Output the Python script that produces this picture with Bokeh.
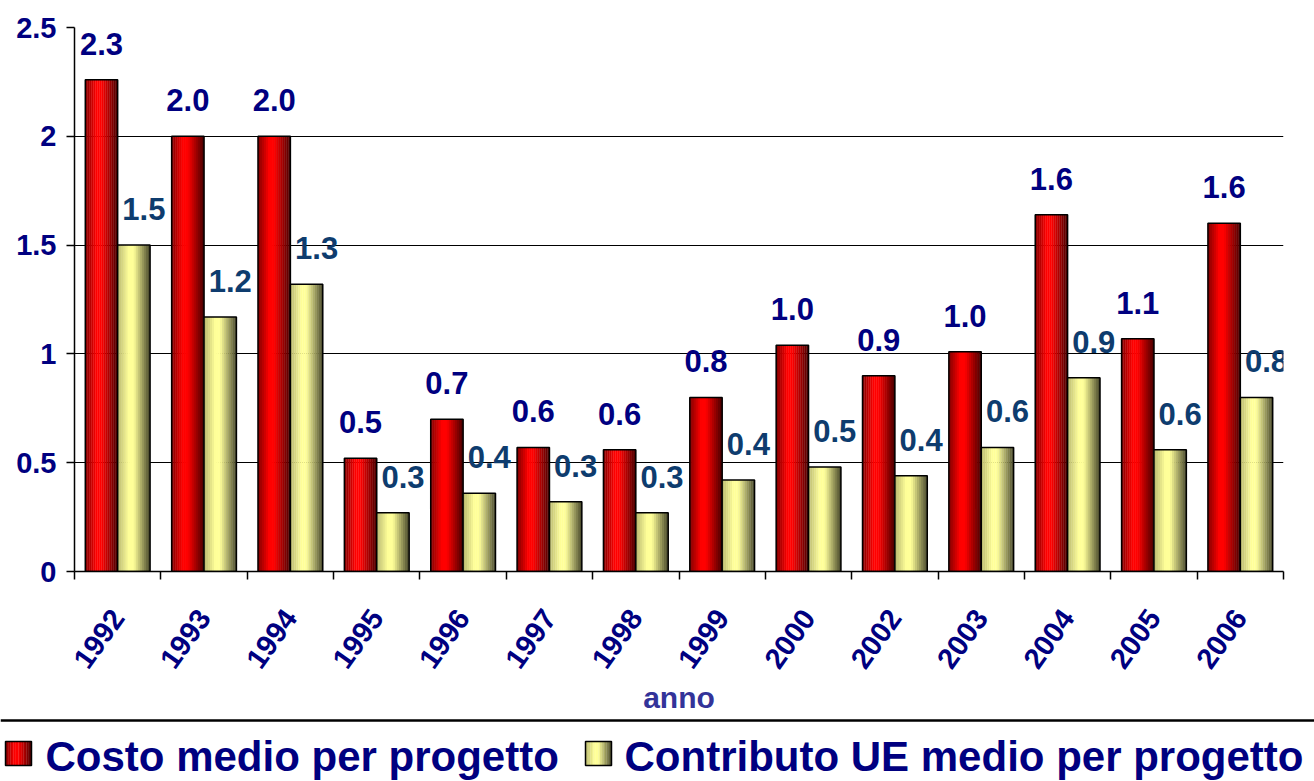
from bokeh.plotting import figure
from bokeh.models import (ColumnDataSource, Range1d, LinearAxis,
                          FixedTicker, NumeralTickFormatter)
from bokeh.transform import dodge
from bokeh.core.properties import value
from bokeh.layouts import column, row
from bokeh.embed import file_html
from bokeh.resources import INLINE

# ---------------- data ----------------
years = ["1992", "1993", "1994", "1995", "1996", "1997", "1998", "1999",
         "2000", "2002", "2003", "2004", "2005", "2006"]
costo = [2.26, 2.00, 2.00, 0.52, 0.70, 0.57, 0.56, 0.80, 1.04, 0.90, 1.01, 1.64, 1.07, 1.60]
contributo = [1.50, 1.17, 1.32, 0.27, 0.36, 0.32, 0.27, 0.42, 0.48, 0.44, 0.57, 0.89, 0.56, 0.80]
series_names = ["Costo medio per progetto", "Contributo UE medio per progetto"]
y_ticks = [0, 0.5, 1, 1.5, 2, 2.5]
x_title = "anno"

# ---------------- style ----------------
FONT = "Liberation Sans"
NAVY = "#000080"
LABEL2 = "#0E3C6E"
RED = (255, 0, 0)
YELLOW = (255, 255, 153)
BW = 0.375
OFFS = [-0.1875, 0.1875]
NSTRIP = 16
W = 1314
H_MAIN = 716
H_LEG = 65


def shade(base, t, left):
    if t < 0.35:
        b = left + (1.0 - left) * t / 0.35
    elif t < 0.5:
        b = 1.0
    else:
        b = 1.0 - 0.72 * (t - 0.5) / 0.5
    return "#%02x%02x%02x" % tuple(int(round(c * b)) for c in base)


n = len(years)
centers = [i + 0.5 for i in range(n)]
src = ColumnDataSource(dict(
    xc=centers, years=years, costo=costo, contributo=contributo,
    costo_lbl=[f"{v:.1f}" for v in costo],
    contr_lbl=[f"{v:.1f}" for v in contributo],
))

p = figure(width=W, height=H_MAIN, x_range=Range1d(0, n), y_range=Range1d(0, 2.5),
           x_axis_location=None, toolbar_location=None, output_backend="svg",
           min_border_left=74, min_border_right=31, min_border_top=27, min_border_bottom=144)
p.outline_line_color = None
p.background_fill_color = "white"
p.xgrid.visible = False

series = [("costo", RED, 0.5, "costo_lbl", NAVY, 0),
          ("contributo", YELLOW, 0.72, "contr_lbl", LABEL2, 10)]

for (key, base, left, lbl, lcol, xoff), off in zip(series, OFFS):
    for j in range(NSTRIP):
        t = (j + 0.5) / NSTRIP
        p.vbar(x=dodge("xc", off - BW / 2 + t * BW), top=key, bottom=0,
               width=BW / NSTRIP * 1.15, source=src, fill_color=shade(base, t, left),
               line_color=None)
    p.vbar(x=dodge("xc", off), top=key, bottom=0, width=BW, source=src,
           fill_color=None, line_color="black", line_width=1.5)
    p.text(x=dodge("xc", off), y=key, text=lbl, source=src,
           text_align="center", text_baseline="alphabetic", x_offset=xoff, y_offset=-36,
           text_font=value(FONT), text_font_style="bold", text_font_size="31px",
           text_color=lcol)

# y axis
yax = p.yaxis[0]
yax.ticker = FixedTicker(ticks=y_ticks)
yax.formatter = NumeralTickFormatter(format="0.[0]")
yax.major_label_text_font = FONT
yax.major_label_text_font_style = "bold"
yax.major_label_text_font_size = "29px"
yax.major_label_text_color = NAVY
yax.major_label_standoff = 10
yax.major_tick_out = 8
yax.major_tick_in = 0
yax.minor_tick_line_color = None
yax.axis_line_color = "black"
yax.axis_line_width = 1.5
yax.major_tick_line_width = 1.5
p.ygrid.ticker = FixedTicker(ticks=y_ticks)
p.ygrid.grid_line_color = "black"
p.ygrid.grid_line_width = 1

# x axis: labels at category centres, minor ticks at category boundaries
xax = LinearAxis(ticker=FixedTicker(ticks=centers, minor_ticks=list(range(n + 1))),
                 major_label_overrides={c: y for c, y in zip(centers, years)},
                 axis_label=x_title, major_label_orientation=0.95,
                 major_tick_line_color=None, major_tick_out=8, major_tick_in=0,
                 minor_tick_line_color="black", minor_tick_line_width=1.5,
                 minor_tick_out=8, minor_tick_in=0,
                 axis_line_color="black", axis_line_width=1.5, major_label_standoff=33,
                 major_label_text_font=FONT, major_label_text_font_style="bold",
                 major_label_text_font_size="29px", major_label_text_color=NAVY,
                 axis_label_text_font=FONT, axis_label_text_font_style="bold",
                 axis_label_text_font_size="30px", axis_label_text_color="#333399",
                 axis_label_standoff=1)
p.add_layout(xax, "below")

# ---------------- legend strip ----------------
p2 = figure(width=W, height=H_LEG, x_range=Range1d(0, W), y_range=Range1d(0, H_LEG),
            x_axis_location=None, y_axis_location=None, toolbar_location=None,
            output_backend="svg", min_border=0, min_border_left=0, min_border_right=0,
            min_border_top=0, min_border_bottom=0)
p2.outline_line_color = None
p2.xgrid.visible = False
p2.ygrid.visible = False
p2.segment(x0=[0], y0=[H_LEG - 4], x1=[W], y1=[H_LEG - 4], line_color="black", line_width=2.5)

leg_sq_x = [5, 585]
leg_txt_x = [45, 624]
SQ = 26
for (key, base, left, lbl, lcol, xoff), sx, tx, name in zip(series, leg_sq_x, leg_txt_x, series_names):
    xs = [sx + (j + 0.5) * SQ / NSTRIP for j in range(NSTRIP)]
    cols = [shade(base, (j + 0.5) / NSTRIP, left) for j in range(NSTRIP)]
    p2.rect(x=xs, y=[H_LEG - 37] * NSTRIP, width=SQ / NSTRIP * 1.15, height=24,
            fill_color=cols, line_color=None)
    p2.rect(x=[sx + SQ / 2], y=[H_LEG - 37], width=SQ, height=24, fill_color=None,
            line_color="black", line_width=1.5)
    p2.text(x=[tx], y=[H_LEG - 40], text=[name], text_align="left", text_baseline="alphabetic",
            text_font=value(FONT), text_font_style="bold", text_font_size="42px",
            text_color=NAVY)

layout = column(p, row(p2), spacing=0)
open("out.html", "w").write(file_html(layout, INLINE))
